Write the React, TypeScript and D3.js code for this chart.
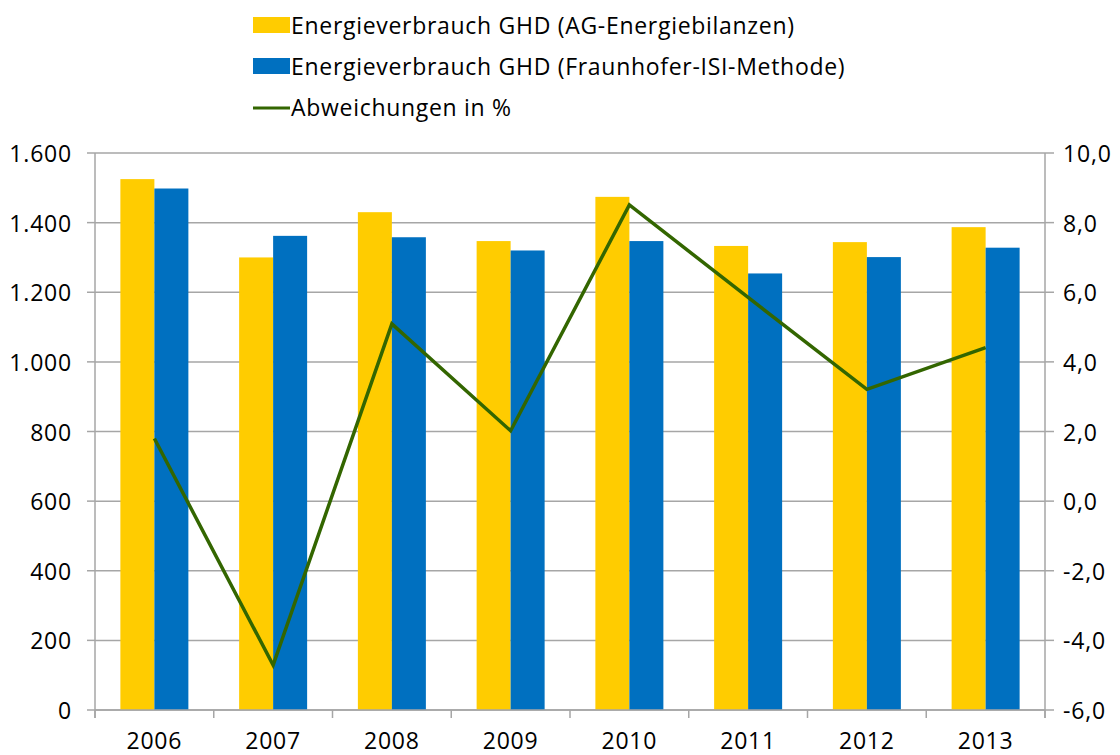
import { scaleBand, scaleLinear, line as d3line, formatLocale, range } from "d3";

const years = ["2006", "2007", "2008", "2009", "2010", "2011", "2012", "2013"];
const agEnergiebilanzen = [1525, 1300, 1430, 1347, 1474, 1333, 1344, 1387];
const fraunhoferIsi = [1498, 1362, 1358, 1320, 1347, 1254, 1301, 1328];
const abweichungen = [1.8, -4.71, 5.09, 2.02, 8.51, 5.85, 3.21, 4.41];
const leftTicks = [0, 200, 400, 600, 800, 1000, 1200, 1400, 1600];
const rightTicks = [-6, -4, -2, 0, 2, 4, 6, 8, 10];

const legendItems = [
  { label: "Energieverbrauch GHD (AG-Energiebilanzen)", color: "#FFCC00", kind: "bar" },
  { label: "Energieverbrauch GHD (Fraunhofer-ISI-Methode)", color: "#0070C0", kind: "bar" },
  { label: "Abweichungen in %", color: "#336600", kind: "line" },
];

const de = formatLocale({
  decimal: ",",
  thousands: ".",
  grouping: [3],
  currency: ["", " €"],
  minus: "-",
});
const fmtLeft = de.format(",.0f");
const fmtRight = de.format(".1f");

const W = 1120;
const H = 755;
const left = 95;
const right = 1045;
const top = 153;
const bottom = 710;
const font = "'Open Sans', Lato, sans-serif";
const gridColor = "#a6a6a6";

export default function App() {
  const x = scaleBand<string>().domain(years).range([left, right]);
  const yL = scaleLinear().domain([0, 1600]).range([bottom, top]);
  const yR = scaleLinear().domain([-6, 10]).range([bottom, top]);
  const barW = 34;

  const linePath = d3line<number>()
    .x((_, i) => (x(years[i]) ?? 0) + x.bandwidth() / 2)
    .y((d) => yR(d))(abweichungen) ?? undefined;

  return (
    <svg width={W} height={H} style={{ display: "block", position: "absolute", left: 0, top: 0 }}>
      <rect width={W} height={H} fill="#fff" />

      {/* legend */}
      {legendItems.map((item, i) => {
        const cy = 25 + i * 41;
        return (
          <g key={item.label}>
            {item.kind === "bar" ? (
              <rect x={253} y={cy - 8} width={37} height={16} fill={item.color} />
            ) : (
              <line x1={253} x2={290} y1={cy + 1} y2={cy + 1} stroke={item.color} strokeWidth={3} />
            )}
            <text x={291} y={cy} dominantBaseline="central" fontFamily={font} fontSize={23} letterSpacing={0.7} fill="#000">
              {item.label}
            </text>
          </g>
        );
      })}

      {/* grid lines */}
      {leftTicks.map((t) => (
        <line key={t} x1={left} x2={right} y1={yL(t)} y2={yL(t)} stroke={gridColor} strokeWidth={1.5} />
      ))}

      {/* bars */}
      {years.map((yr, i) => {
        const cx = (x(yr) ?? 0) + x.bandwidth() / 2;
        return (
          <g key={yr}>
            <rect x={cx - barW} y={yL(agEnergiebilanzen[i])} width={barW} height={bottom - yL(agEnergiebilanzen[i])} fill="#FFCC00" />
            <rect x={cx} y={yL(fraunhoferIsi[i])} width={barW} height={bottom - yL(fraunhoferIsi[i])} fill="#0070C0" />
          </g>
        );
      })}

      {/* axes */}
      <line x1={left} x2={left} y1={top} y2={bottom + 8} stroke={gridColor} strokeWidth={1.5} />
      <line x1={right} x2={right} y1={top} y2={bottom + 8} stroke={gridColor} strokeWidth={1.5} />
      <line x1={left} x2={right} y1={bottom} y2={bottom} stroke={gridColor} strokeWidth={1.5} />
      {leftTicks.map((t) => (
        <g key={"l" + t}>
          <line x1={left - 8} x2={left} y1={yL(t)} y2={yL(t)} stroke={gridColor} strokeWidth={1.5} />
          <text x={72} y={yL(t)} textAnchor="end" dominantBaseline="central" fontFamily={font} fontSize={23} letterSpacing={0.8}>
            {fmtLeft(t)}
          </text>
        </g>
      ))}
      {rightTicks.map((t) => (
        <g key={"r" + t}>
          <line x1={right} x2={right + 9} y1={yR(t)} y2={yR(t)} stroke={gridColor} strokeWidth={1.5} />
          <text x={1063} y={yR(t)} dominantBaseline="central" fontFamily={font} fontSize={23} letterSpacing={0.8}>
            {fmtRight(t)}
          </text>
        </g>
      ))}
      {range(years.length + 1).map((i) => {
        const xx = left + i * x.step();
        return <line key={"t" + i} x1={xx} x2={xx} y1={bottom} y2={bottom + 8} stroke={gridColor} strokeWidth={1.5} />;
      })}
      {years.map((yr) => (
        <text
          key={"x" + yr}
          x={(x(yr) ?? 0) + x.bandwidth() / 2}
          y={740}
          textAnchor="middle"
          dominantBaseline="central"
          fontFamily={font}
          fontSize={23}
          letterSpacing={0.8}
        >
          {yr}
        </text>
      ))}

      {/* line series */}
      <path d={linePath} fill="none" stroke="#336600" strokeWidth={3.5} strokeLinejoin="miter" />
    </svg>
  );
}
